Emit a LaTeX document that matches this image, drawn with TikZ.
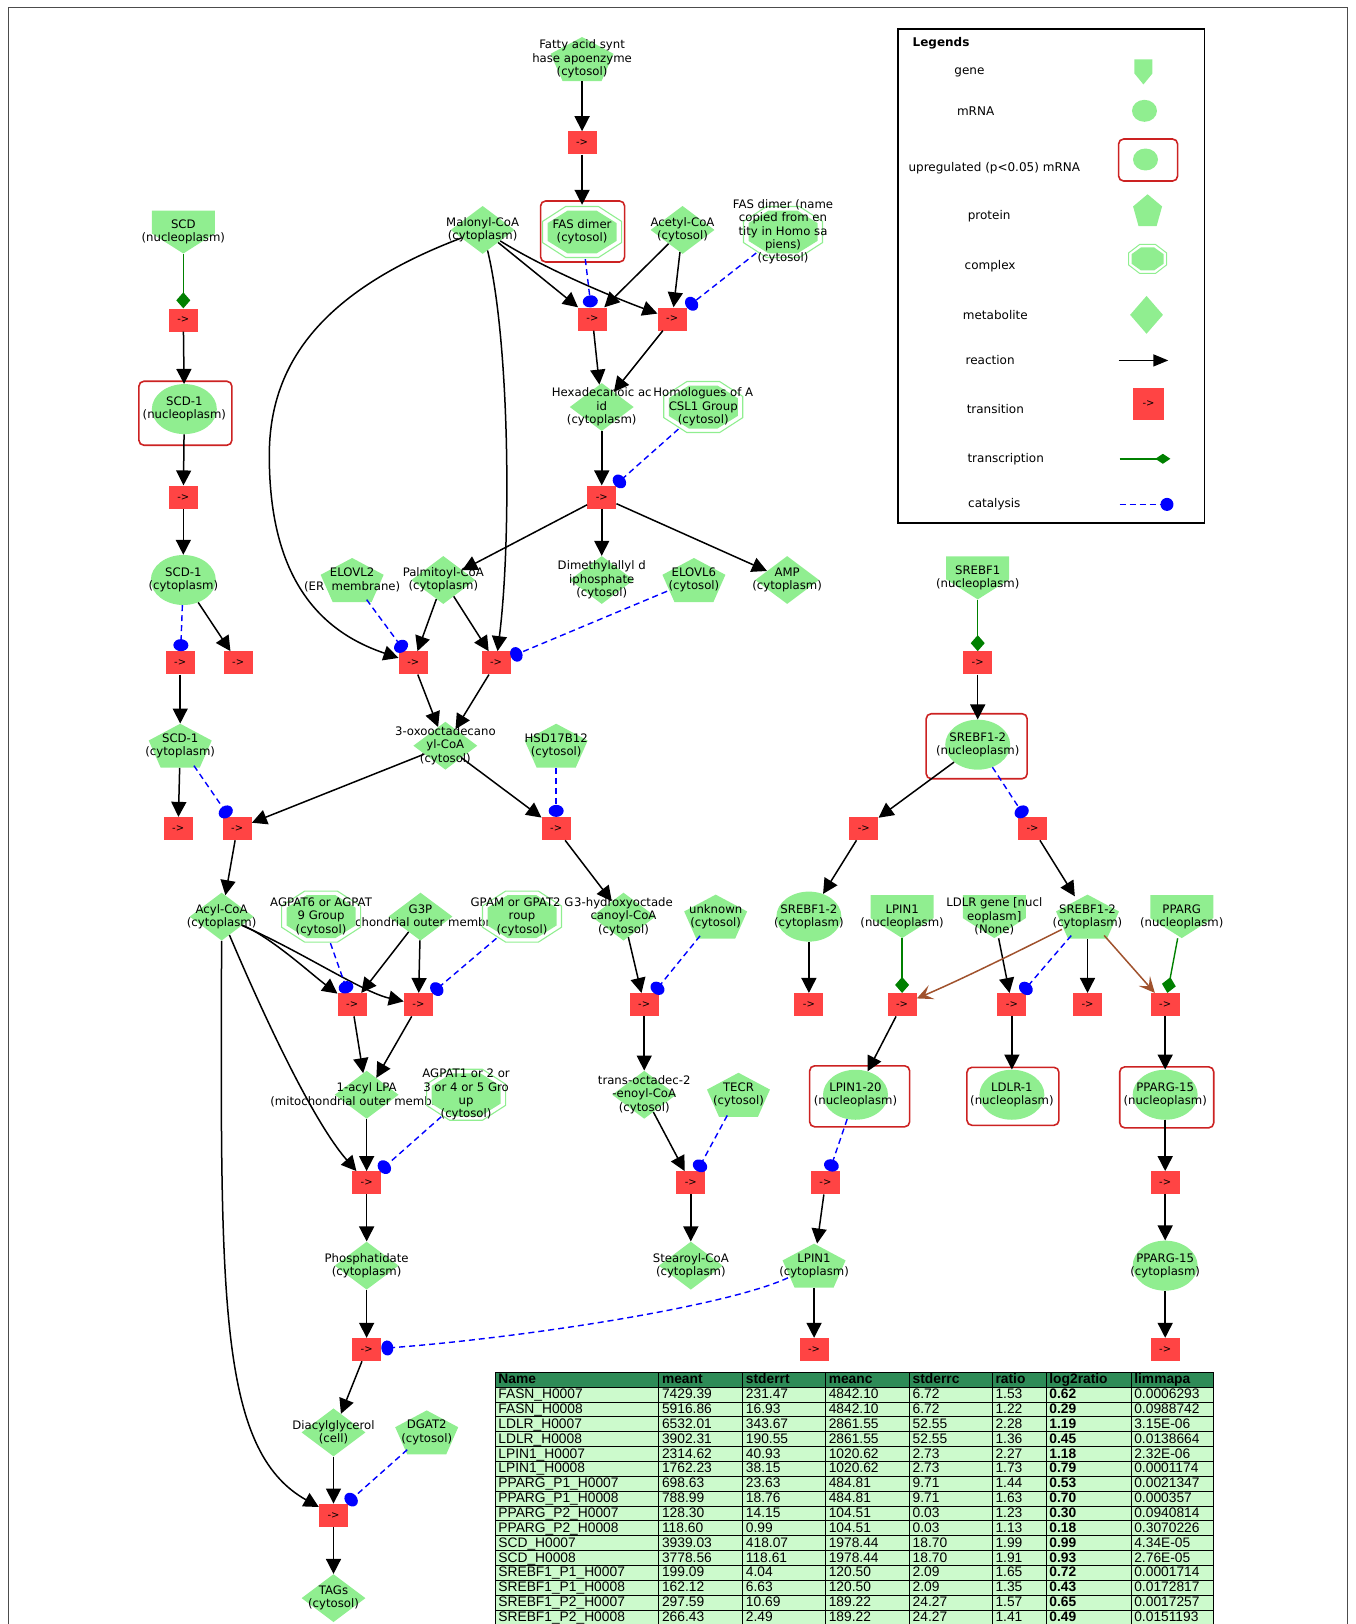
\documentclass[tikz,border=0pt]{standalone}
\usepackage{fontspec}
\setmainfont{DejaVu Sans}
\newfontfamily\tabfont{Liberation Sans}
\usetikzlibrary{arrows.meta,shapes.geometric}
\definecolor{gfill}{RGB}{144,238,144}
\definecolor{tred}{RGB}{255,68,68}
\definecolor{boxred}{RGB}{204,34,34}
\definecolor{catblue}{RGB}{0,0,255}
\definecolor{tgreen}{RGB}{0,128,0}
\definecolor{brn}{RGB}{160,82,45}
\definecolor{thead}{RGB}{46,139,87}
\definecolor{trow}{RGB}{204,250,204}
\tikzset{
 lbl/.style={align=center, inner sep=0pt, font=\fontsize{11.7}{13.3}\selectfont},
 lgt/.style={inner sep=0pt, font=\fontsize{12}{14}\selectfont},
 mrna/.style={ellipse, fill=gfill, minimum width=65pt, minimum height=50pt, inner sep=0pt},
 meta/.style={diamond, fill=gfill, minimum width=64pt, minimum height=48pt, inner sep=0pt},
 panchor/.style={ellipse, minimum width=62pt, minimum height=44pt, inner sep=0pt},
 canchor/.style={ellipse, minimum width=84pt, minimum height=54pt, inner sep=0pt},
 ganchor/.style={rectangle, minimum width=63pt, minimum height=43pt, inner sep=0pt},
 trans/.style={rectangle, fill=tred, minimum width=29pt, minimum height=23pt, inner sep=0pt, font=\fontsize{10}{10}\selectfont},
 upbox/.style={rectangle, rounded corners=5pt, draw=boxred, line width=1.6pt, inner sep=0pt},
 rx/.style={draw=black, line width=1.5pt, -{Triangle[length=15pt,width=15pt]}},
 cat/.style={draw=catblue, line width=1.4pt, dash pattern=on 6pt off 4pt, -{Circle[length=12pt,width=15pt]}},
 trx/.style={draw=tgreen, line width=1.4pt, -{Diamond[length=16pt,width=14pt]}},
 brx/.style={draw=brn, line width=1.5pt, -{Stealth[length=16pt,width=15pt,inset=7pt]}},
 tabtxt/.style={inner sep=0pt, anchor=base west, font=\tabfont\fontsize{13.8}{14}\selectfont},
 tabbold/.style={inner sep=0pt, anchor=base west, font=\tabfont\bfseries\fontsize{13.8}{14}\selectfont},
 tline/.style={draw=black, line width=1pt},
}
\newcommand\EnMrna[4]{\node[mrna] (#1) at (#2,#3) {};\node[lbl] (#1l) at (#2,#3) {#4};}
\newcommand\EnMeta[4]{\node[meta] (#1) at (#2,#3) {};\node[lbl] (#1l) at (#2,#3) {#4};}
\newcommand\EnProt[4]{\node[panchor] (#1) at (#2,#3) {};
 \fill[gfill,shift={(#2,#3)}] (0pt,22pt) -- (31.5pt,5.2pt) -- (19.5pt,-22pt) -- (-19.5pt,-22pt) -- (-31.5pt,5.2pt) -- cycle;
 \node[lbl] (#1l) at (#2,#3) {#4};}
\newcommand\EnGene[4]{\node[ganchor] (#1) at (#2,#3) {};
 \fill[gfill,shift={(#2,#3)}] (-31.5pt,21.5pt) -- (31.5pt,21.5pt) -- (31.5pt,-1.5pt) -- (0pt,-21.5pt) -- (-31.5pt,-1.5pt) -- cycle;
 \node[lbl] (#1l) at (#2,#3) {#4};}
\newcommand\EnCplx[4]{\node[canchor] (#1) at (#2,#3) {};
 \draw[gfill,line width=1.1pt,shift={(#2,#3)}] (16.4pt,25.5pt) -- (39.5pt,10.6pt) -- (39.5pt,-10.6pt) -- (16.4pt,-25.5pt) -- (-16.4pt,-25.5pt) -- (-39.5pt,-10.6pt) -- (-39.5pt,10.6pt) -- (-16.4pt,25.5pt) -- cycle;
 \fill[gfill,shift={(#2,#3)}] (14.3pt,21.5pt) -- (34.5pt,8.9pt) -- (34.5pt,-8.9pt) -- (14.3pt,-21.5pt) -- (-14.3pt,-21.5pt) -- (-34.5pt,-8.9pt) -- (-34.5pt,8.9pt) -- (-14.3pt,21.5pt) -- cycle;
 \node[lbl] (#1l) at (#2,#3) {#4};}
\begin{document}
\begin{tikzpicture}[x=1.0358pt,y=-1.0358pt]
\path[use as bounding box] (0,0) rectangle (1309,1568);
\draw[line width=0.8pt, black!70] (8,1568) -- (8,7) -- (1301,7) -- (1301,1568);

% ---------- entities (non complex) ----------
\EnProt{FASapo}{562}{57}{Fatty acid synt\\hase apoenzyme\\(cytosol)}
\EnGene{SCD}{177}{224}{SCD\\(nucleoplasm)}
\EnMeta{Mal}{466}{222}{Malonyl-CoA\\(cytoplasm)}
\EnMeta{Ace}{659}{222}{Acetyl-CoA\\(cytosol)}
\EnMrna{SCDn}{178}{395}{SCD-1\\(nucleoplasm)}
\node[upbox, minimum width=93pt, minimum height=64pt] (SCDnb) at (179,399) {};
\EnMeta{Hexa}{581}{393}{Hexadecanoic ac\\id\\(cytoplasm)}
\EnMrna{SCDc}{177}{560}{SCD-1\\(cytoplasm)}
\EnProt{ELOVLb}{340}{560}{ELOVL2\\(ER\ \ membrane)}
\EnMeta{Palm}{428}{560}{Palmitoyl-CoA\\(cytoplasm)}
\EnMeta{Dime}{581}{560}{Dimethylallyl d\\iphosphate\\(cytosol)}
\EnProt{ELOVLf}{670}{560}{ELOVL6\\(cytosol)}
\EnMeta{AMP}{760}{560}{AMP\\(cytoplasm)}
\EnGene{SREBF}{944}{558}{SREBF1\\(nucleoplasm)}
\EnProt{SCDp}{174}{720}{SCD-1\\(cytoplasm)}
\EnMeta{Oxo}{430}{720}{3-oxooctadecano\\yl-CoA\\(cytosol)}
\EnProt{HSD}{537}{720}{HSD17B12\\(cytosol)}
\EnMrna{SRn}{944}{719}{SREBF1-2\\(nucleoplasm)}
\node[upbox, minimum width=101pt, minimum height=65pt] (SRnb) at (943,720.5) {};
\EnMeta{Acyl}{214}{885}{Acyl-CoA\\(cytoplasm)}
\EnMeta{GtP}{406}{885}{G3P\\(mitochondrial outer membrane)}
\EnMeta{Hydro}{602}{885}{3-hydroxyoctade\\canoyl-CoA\\(cytosol)}
\EnProt{Unk}{691}{885}{unknown\\(cytosol)}
\EnMrna{SRc}{781}{885}{SREBF1-2\\(cytoplasm)}
\EnGene{LPINg}{871}{885}{LPIN1\\(nucleoplasm)}
\EnGene{LDLRg}{960}{885}{LDLR gene [nucl\\eoplasm]\\(None)}
\EnProt{SRp}{1050}{885}{SREBF1-2\\(cytoplasm)}
\EnGene{PPARGg}{1141}{885}{PPARG\\(nucleoplasm)}
\EnMeta{LPA}{354}{1057}{1-acyl LPA\\(mitochondrial outer membrane)}
\EnMeta{TrO}{622}{1057}{trans-octadec-2\\-enoyl-CoA\\(cytosol)}
\EnProt{TECR}{713}{1057}{TECR\\(cytosol)}
\EnMrna{LPINt}{826}{1057}{LPIN1-20\\(nucleoplasm)}
\node[upbox, minimum width=100pt, minimum height=61pt] (LPINtb) at (830,1058.5) {};
\EnMrna{LDLRo}{977}{1057}{LDLR-1\\(nucleoplasm)}
\node[upbox, minimum width=92pt, minimum height=58pt] (LDLRob) at (978,1058.5) {};
\EnMrna{PPn}{1125}{1057}{PPARG-15\\(nucleoplasm)}
\node[upbox, minimum width=94pt, minimum height=61pt] (PPnb) at (1126.5,1059.5) {};
\EnMeta{Phos}{354}{1222}{Phosphatidate\\(cytoplasm)}
\EnMeta{Stear}{667}{1222}{Stearoyl-CoA\\(cytoplasm)}
\EnProt{LPINp}{786}{1222}{LPIN1\\(cytoplasm)}
\EnMrna{PPc}{1125}{1222}{PPARG-15\\(cytoplasm)}
\EnMeta{Diac}{322}{1383}{Diacylglycerol\\(cell)}
\EnProt{DGAT}{412}{1383}{DGAT2\\(cytosol)}
\EnMeta{TAGs}{322}{1543}{TAGs\\(cytosol)}

% ---------- complexes ----------
\EnCplx{FASd}{562}{224}{FAS dimer\\(cytosol)}
\node[upbox, minimum width=84pt, minimum height=61pt] (FASdb) at (562.5,223.5) {};
\EnCplx{FASn}{756}{224}{FAS dimer (name\\copied from en\\tity in Homo sa\\piens)\\(cytosol)}
\EnCplx{Homol}{679}{393}{Homologues of A\\CSL1 Group\\(cytosol)}
\EnCplx{AGPs}{310}{885}{AGPAT6 or AGPAT\\9 Group\\(cytosol)}
\EnCplx{GPAM}{504}{885}{GPAM or GPAT2 G\\roup\\(cytosol)}
\EnCplx{AGPo}{450}{1057}{AGPAT1 or 2 or\\3 or 4 or 5 Gro\\up\\(cytosol)}

% ---------- transitions ----------
\node[trans] (T7) at (562,138) {->};
\node[trans] (T1) at (177,309) {->};
\node[trans] (T8) at (572,308) {->};
\node[trans] (T9) at (649,308) {->};
\node[trans] (T2) at (177,480) {->};
\node[trans] (T10) at (581,480) {->};
\node[trans] (T3) at (174,640) {->};
\node[trans] (T4) at (230,640) {->};
\node[trans] (T11) at (399,640) {->};
\node[trans] (T12) at (479,640) {->};
\node[trans] (T21) at (944,640) {->};
\node[trans] (T5) at (172,800) {->};
\node[trans] (T6) at (229,800) {->};
\node[trans] (T13) at (537,800) {->};
\node[trans] (T22) at (834,800) {->};
\node[trans] (T23) at (997,800) {->};
\node[trans] (T16) at (340,970) {->};
\node[trans] (T17) at (404,970) {->};
\node[trans] (T14) at (622,970) {->};
\node[trans] (T24) at (781,970) {->};
\node[trans] (T25) at (871,970) {->};
\node[trans] (T26) at (977,970) {->};
\node[trans] (T27) at (1050,970) {->};
\node[trans] (T28) at (1125,970) {->};
\node[trans] (T18) at (354,1142) {->};
\node[trans] (T15) at (667,1142) {->};
\node[trans] (T29) at (797,1142) {->};
\node[trans] (T31) at (1125,1142) {->};
\node[trans] (T19) at (354,1303) {->};
\node[trans] (T30) at (786,1303) {->};
\node[trans] (T32) at (1125,1303) {->};
\node[trans] (T20) at (322,1463) {->};

% ---------- reactions ----------
\draw[rx] (FASapo) -- (T7);
\draw[rx] (T7) -- (FASd);
\draw[rx] (Mal) -- (T8);
\draw[rx] (Ace) -- (T8);
\draw[rx] (Mal) .. controls (530,262) and (600,290) .. (T9);
\draw[rx] (Ace) -- (T9);
\draw[rx] (T8) -- (Hexa);
\draw[rx] (T9) -- (Hexa);
\draw[rx] (Hexa) -- (T10);
\draw[rx] (T10) -- (Palm);
\draw[rx] (T10) -- (Dime);
\draw[rx] (T10) -- (AMP);
\draw[rx] (Mal) .. controls (300,285) and (260,360) .. (260,440) .. controls (260,560) and (310,610) .. (T11);
\draw[rx] (Palm) -- (T11);
\draw[rx] (Palm) -- (T12);
\draw[rx] (Mal) .. controls (492,330) and (494,520) .. (T12);
\draw[rx] (T11) -- (Oxo);
\draw[rx] (T12) -- (Oxo);
\draw[rx] (Oxo) -- (T6);
\draw[rx] (Oxo) -- (T13);
\draw[rx] (T13) -- (Hydro);
\draw[rx] (T1) -- (SCDn);
\draw[rx] (SCDn) -- (T2);
\draw[rx] (T2) -- (SCDc);
\draw[rx] (SCDc) -- (T4);
\draw[rx] (T3) -- (SCDp);
\draw[rx] (SCDp) -- (T5);
\draw[rx] (T6) -- (Acyl);
\draw[rx] (Acyl) .. controls (262,905) and (300,940) .. (T16);
\draw[rx] (Acyl) .. controls (290,918) and (350,958) .. (T17);
\draw[rx] (GtP) -- (T16);
\draw[rx] (GtP) -- (T17);
\draw[rx] (T16) -- (LPA);
\draw[rx] (T17) -- (LPA);
\draw[rx] (LPA) -- (T18);
\draw[rx] (Acyl) .. controls (250,970) and (300,1080) .. (T18);
\draw[rx] (T18) -- (Phos);
\draw[rx] (Phos) -- (T19);
\draw[rx] (T19) -- (Diac);
\draw[rx] (Diac) -- (T20);
\draw[rx] (Acyl) .. controls (213,1250) and (210,1400) .. (T20);
\draw[rx] (T20) -- (TAGs);
\draw[rx] (Hydro) -- (T14);
\draw[rx] (T14) -- (TrO);
\draw[rx] (TrO) -- (T15);
\draw[rx] (T15) -- (Stear);
\draw[rx] (T21) -- (SRn);
\draw[rx] (SRn) -- (T22);
\draw[rx] (T22) -- (SRc);
\draw[rx] (T23) -- (SRp);
\draw[rx] (SRc) -- (T24);
\draw[rx] (T25) -- (LPINt);
\draw[rx] (LDLRg) -- (T26);
\draw[rx] (T26) -- (LDLRo);
\draw[rx] (SRp) -- (T27);
\draw[rx] (T28) -- (PPn);
\draw[rx] (PPn) -- (T31);
\draw[rx] (T31) -- (PPc);
\draw[rx] (PPc) -- (T32);
\draw[rx] (T29) -- (LPINp);
\draw[rx] (LPINp) -- (T30);
\draw[brx] (SRp) .. controls (990,915) and (930,945) .. (T25);
\draw[brx] (SRp) -- (T28);

% ---------- transcription ----------
\draw[trx] (SCD) -- (T1);
\draw[trx] (SREBF) -- (T21);
\draw[trx] (LPINg) -- (T25);
\draw[trx] (PPARGg) -- (T28);

% ---------- catalysis ----------
\draw[cat] (FASd) -- (T8);
\draw[cat] (FASn) -- (T9);
\draw[cat] (Homol) -- (T10);
\draw[cat] (SCDc) -- (T3);
\draw[cat] (SCDp) -- (T6);
\draw[cat] (ELOVLb) -- (T11);
\draw[cat] (ELOVLf) -- (T12);
\draw[cat] (HSD) -- (T13);
\draw[cat] (AGPs) -- (T16);
\draw[cat] (GPAM) -- (T17);
\draw[cat] (Unk) -- (T14);
\draw[cat] (AGPo) -- (T18);
\draw[cat] (TECR) -- (T15);
\draw[cat] (SRn) -- (T23);
\draw[cat] (SRp) -- (T26);
\draw[cat] (LPINt) -- (T29);
\draw[cat] (LPINp) .. controls (700,1262) and (500,1292) .. (T19);
\draw[cat] (DGAT) -- (T20);

% ---------- legend ----------
\node[draw, line width=1.8pt, minimum width=306.6pt, minimum height=494pt, inner sep=0pt] (legend) at (1015,266.5) {};
\node[lgt, anchor=west, font=\bfseries\fontsize{12}{14}\selectfont] (lgtitle) at (881,42) {Legends};
\node[lgt] (lgA) at (936,69.5) {gene};
\node[lgt] (lgB) at (942,107) {mRNA};
\node[lgt] (lgC) at (960,162) {upregulated (p<0.05) mRNA};
\node[lgt] (lgD) at (955,209) {protein};
\node[lgt] (lgE) at (956,257) {complex};
\node[lgt] (lgF) at (961,304) {metabolite};
\node[lgt] (lgG) at (956,348) {reaction};
\node[lgt] (lgH) at (961,395) {transition};
\node[lgt] (lgI) at (971,443) {transcription};
\node[lgt] (lgJ) at (960,487) {catalysis};
\node[rectangle, minimum width=18pt, minimum height=25pt, inner sep=0pt] (lsGene) at (1104,69.5) {};
\fill[gfill, shift={(1104,69.5)}] (-9pt,12.5pt) -- (9pt,12.5pt) -- (9pt,-1.5pt) -- (0pt,-12.5pt) -- (-9pt,-1.5pt) -- cycle;
\node[ellipse, fill=gfill, minimum width=25pt, minimum height=22pt, inner sep=0pt] (lsMrna) at (1105,107) {};
\node[ellipse, fill=gfill, minimum width=25pt, minimum height=22pt, inner sep=0pt] (lsUp) at (1106,154) {};
\node[upbox, minimum width=59pt, minimum height=42pt] (lsUpb) at (1108.5,154.5) {};
\node[ellipse, minimum width=29pt, minimum height=32pt, inner sep=0pt] (lsProt) at (1108,203) {};
\fill[gfill, shift={(1108,203)}] (0pt,16pt) -- (14.5pt,3.8pt) -- (9pt,-16pt) -- (-9pt,-16pt) -- (-14.5pt,3.8pt) -- cycle;
\node[ellipse, minimum width=38pt, minimum height=29pt, inner sep=0pt] (lsCplx) at (1108,250) {};
\draw[gfill, line width=1pt, shift={(1108,250)}] (7.9pt,14.5pt) -- (19pt,6pt) -- (19pt,-6pt) -- (7.9pt,-14.5pt) -- (-7.9pt,-14.5pt) -- (-19pt,-6pt) -- (-19pt,6pt) -- (-7.9pt,14.5pt) -- cycle;
\fill[gfill, shift={(1108,250)}] (6.6pt,11.5pt) -- (16pt,4.8pt) -- (16pt,-4.8pt) -- (6.6pt,-11.5pt) -- (-6.6pt,-11.5pt) -- (-16pt,-4.8pt) -- (-16pt,4.8pt) -- (-6.6pt,11.5pt) -- cycle;
\node[diamond, fill=gfill, minimum width=33pt, minimum height=38pt, inner sep=0pt] (lsMeta) at (1107,304) {};
\coordinate (lsRa) at (1080,348);
\coordinate (lsRb) at (1128,348);
\draw[draw=black, line width=1.5pt, -{Triangle[length=15pt,width=12pt]}] (lsRa) -- (lsRb);
\node[trans, minimum width=31pt, minimum height=32pt] (lsTr) at (1109,390) {->};
\coordinate (lsXa) at (1081,443);
\coordinate (lsXb) at (1130,443);
\draw[trx, -{Diamond[length=15pt,width=10pt]}] (lsXa) -- (lsXb);
\coordinate (lsCa) at (1081,487);
\coordinate (lsCb) at (1133,487);
\draw[cat, -{Circle[length=13pt,width=13pt]}] (lsCa) -- (lsCb);

% ---------- table ----------
\fill[trow] (478,1339.35) rectangle (1172,1568);
\fill[thead] (478,1325) rectangle (1172,1339.35);
\foreach \k in {0,...,16} \draw[tline] (478,{1325+14.35*\k}) -- (1172,{1325+14.35*\k});
\foreach \xx in {478,636,717,797,878,958,1010,1092,1172} \draw[tline] (\xx,1325) -- (\xx,1568);
\node[tabbold] (hA) at (481,1336) {Name};
\node[tabbold] (hB) at (639,1336) {meant};
\node[tabbold] (hC) at (720,1336) {stderrt};
\node[tabbold] (hD) at (800,1336) {meanc};
\node[tabbold] (hE) at (881,1336) {stderrc};
\node[tabbold] (hF) at (961,1336) {ratio};
\node[tabbold] (hG) at (1013,1336) {log2ratio};
\node[tabbold] (hH) at (1095,1336) {limmapa};
\foreach \va/\vb/\vc/\vd/\ve/\vf/\vg/\vh [count=\i] in {
 FASN\_H0007/7429.39/231.47/4842.10/6.72/1.53/0.62/0.0006293,
 FASN\_H0008/5916.86/16.93/4842.10/6.72/1.22/0.29/0.0988742,
 LDLR\_H0007/6532.01/343.67/2861.55/52.55/2.28/1.19/3.15E-06,
 LDLR\_H0008/3902.31/190.55/2861.55/52.55/1.36/0.45/0.0138664,
 LPIN1\_H0007/2314.62/40.93/1020.62/2.73/2.27/1.18/2.32E-06,
 LPIN1\_H0008/1762.23/38.15/1020.62/2.73/1.73/0.79/0.0001174,
 PPARG\_P1\_H0007/698.63/23.63/484.81/9.71/1.44/0.53/0.0021347,
 PPARG\_P1\_H0008/788.99/18.76/484.81/9.71/1.63/0.70/0.000357,
 PPARG\_P2\_H0007/128.30/14.15/104.51/0.03/1.23/0.30/0.0940814,
 PPARG\_P2\_H0008/118.60/0.99/104.51/0.03/1.13/0.18/0.3070226,
 SCD\_H0007/3939.03/418.07/1978.44/18.70/1.99/0.99/4.34E-05,
 SCD\_H0008/3778.56/118.61/1978.44/18.70/1.91/0.93/2.76E-05,
 SREBF1\_P1\_H0007/199.09/4.04/120.50/2.09/1.65/0.72/0.0001714,
 SREBF1\_P1\_H0008/162.12/6.63/120.50/2.09/1.35/0.43/0.0172817,
 SREBF1\_P2\_H0007/297.59/10.69/189.22/24.27/1.57/0.65/0.0017257,
 SREBF1\_P2\_H0008/266.43/2.49/189.22/24.27/1.41/0.49/0.0151193} {
 \node[tabtxt] (ta\i) at (481,{1336+14.35*\i}) {\va};
 \node[tabtxt] (tb\i) at (639,{1336+14.35*\i}) {\vb};
 \node[tabtxt] (tc\i) at (720,{1336+14.35*\i}) {\vc};
 \node[tabtxt] (td\i) at (800,{1336+14.35*\i}) {\vd};
 \node[tabtxt] (te\i) at (881,{1336+14.35*\i}) {\ve};
 \node[tabtxt] (tf\i) at (961,{1336+14.35*\i}) {\vf};
 \node[tabbold] (tg\i) at (1013,{1336+14.35*\i}) {\vg};
 \node[tabtxt] (th\i) at (1095,{1336+14.35*\i}) {\vh};
}
\end{tikzpicture}
\end{document}
